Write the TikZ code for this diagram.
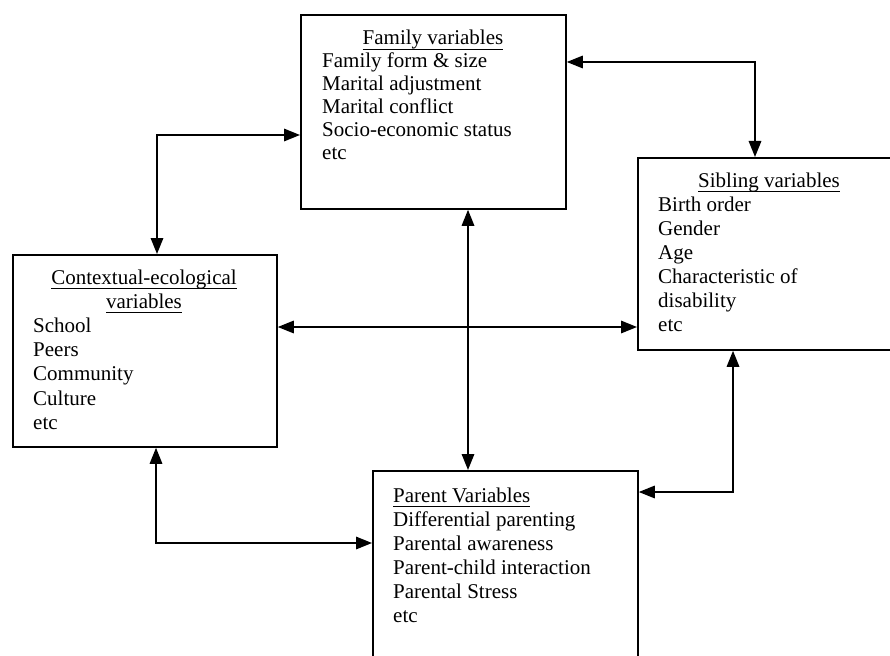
\documentclass[tikz,border=0pt]{standalone}
\usepackage{fontspec}
\setmainfont{Liberation Serif}
\usetikzlibrary{arrows.meta}
\newcommand{\myul}[1]{\setbox0\hbox{#1}\rlap{\rule[-4.5pt]{\wd0}{0.9pt}}\box0}
\begin{document}
\begin{tikzpicture}[x=1pt,y=-1pt,
  box/.style={draw,line width=1.8pt,inner sep=0pt,anchor=north west},
  txt/.style={inner sep=0pt,font=\fontsize{21}{24}\selectfont},
  biarrow/.style={line width=1.6pt,{Triangle[length=16pt,width=12.5pt]}-{Triangle[length=16pt,width=12.5pt]}}]
\useasboundingbox (0,0) rectangle (890,655);
\clip (0,0) rectangle (890,655);
% boxes
\node[box,minimum width=265pt,minimum height=194pt] (fam) at (300,14) {};
\node[box,minimum width=262pt,minimum height=192pt] (sib) at (637,157) {};
\node[box,minimum width=264pt,minimum height=192pt] (ctx) at (12,254) {};
\node[box,minimum width=265pt,minimum height=195pt] (par) at (372,470) {};
% family text
\node[txt,anchor=base] (famT) at (433,45) {\myul{Family variables}};
\foreach \t [count=\i] in {Family form \& size,Marital adjustment,Marital conflict,Socio-economic status,etc}
  \node[txt,anchor=base west] (famL\i) at (322,{45+23*\i}) {\t};
% sibling text
\node[txt,anchor=base] (sibT) at (769,187) {\myul{Sibling variables}};
\foreach \t [count=\i] in {Birth order,Gender,Age,Characteristic of,disability,etc}
  \node[txt,anchor=base west] (sibL\i) at (658,{187+24*\i}) {\t};
% contextual text
\node[txt,anchor=base] (ctxT1) at (144,284) {\myul{Contextual-ecological}};
\node[txt,anchor=base] (ctxT2) at (144,308) {\myul{variables}};
\foreach \t [count=\i] in {School,Peers,Community,Culture,etc}
  \node[txt,anchor=base west] (ctxL\i) at (33,{308+24.3*\i}) {\t};
% parent text
\node[txt,anchor=base west] (parT) at (393,502) {\myul{Parent Variables}};
\foreach \t [count=\i] in {Differential parenting,Parental awareness,Parent-child interaction,Parental Stress,etc}
  \node[txt,anchor=base west] (parL\i) at (393,{502+24*\i}) {\t};
% connector bends
\coordinate (c1) at (157,135);
\coordinate (c2) at (755,62);
\coordinate (c3) at (468,327);
\coordinate (c4) at (156,543);
\coordinate (c5) at (733,492);
% connectors
\draw[biarrow] (ctx.north -| c1) |- (fam.west |- c1);
\draw[biarrow] (fam.east |- c2) -| (sib.north -| c2);
\draw[biarrow] (fam.south -| c3) -- (par.north -| c3);
\draw[biarrow] (ctx.east |- c3) -- (sib.west |- c3);
\draw[biarrow] (ctx.south -| c4) |- (par.west |- c4);
\draw[biarrow] (sib.south -| c5) |- (par.east |- c5);
\end{tikzpicture}
\end{document}
